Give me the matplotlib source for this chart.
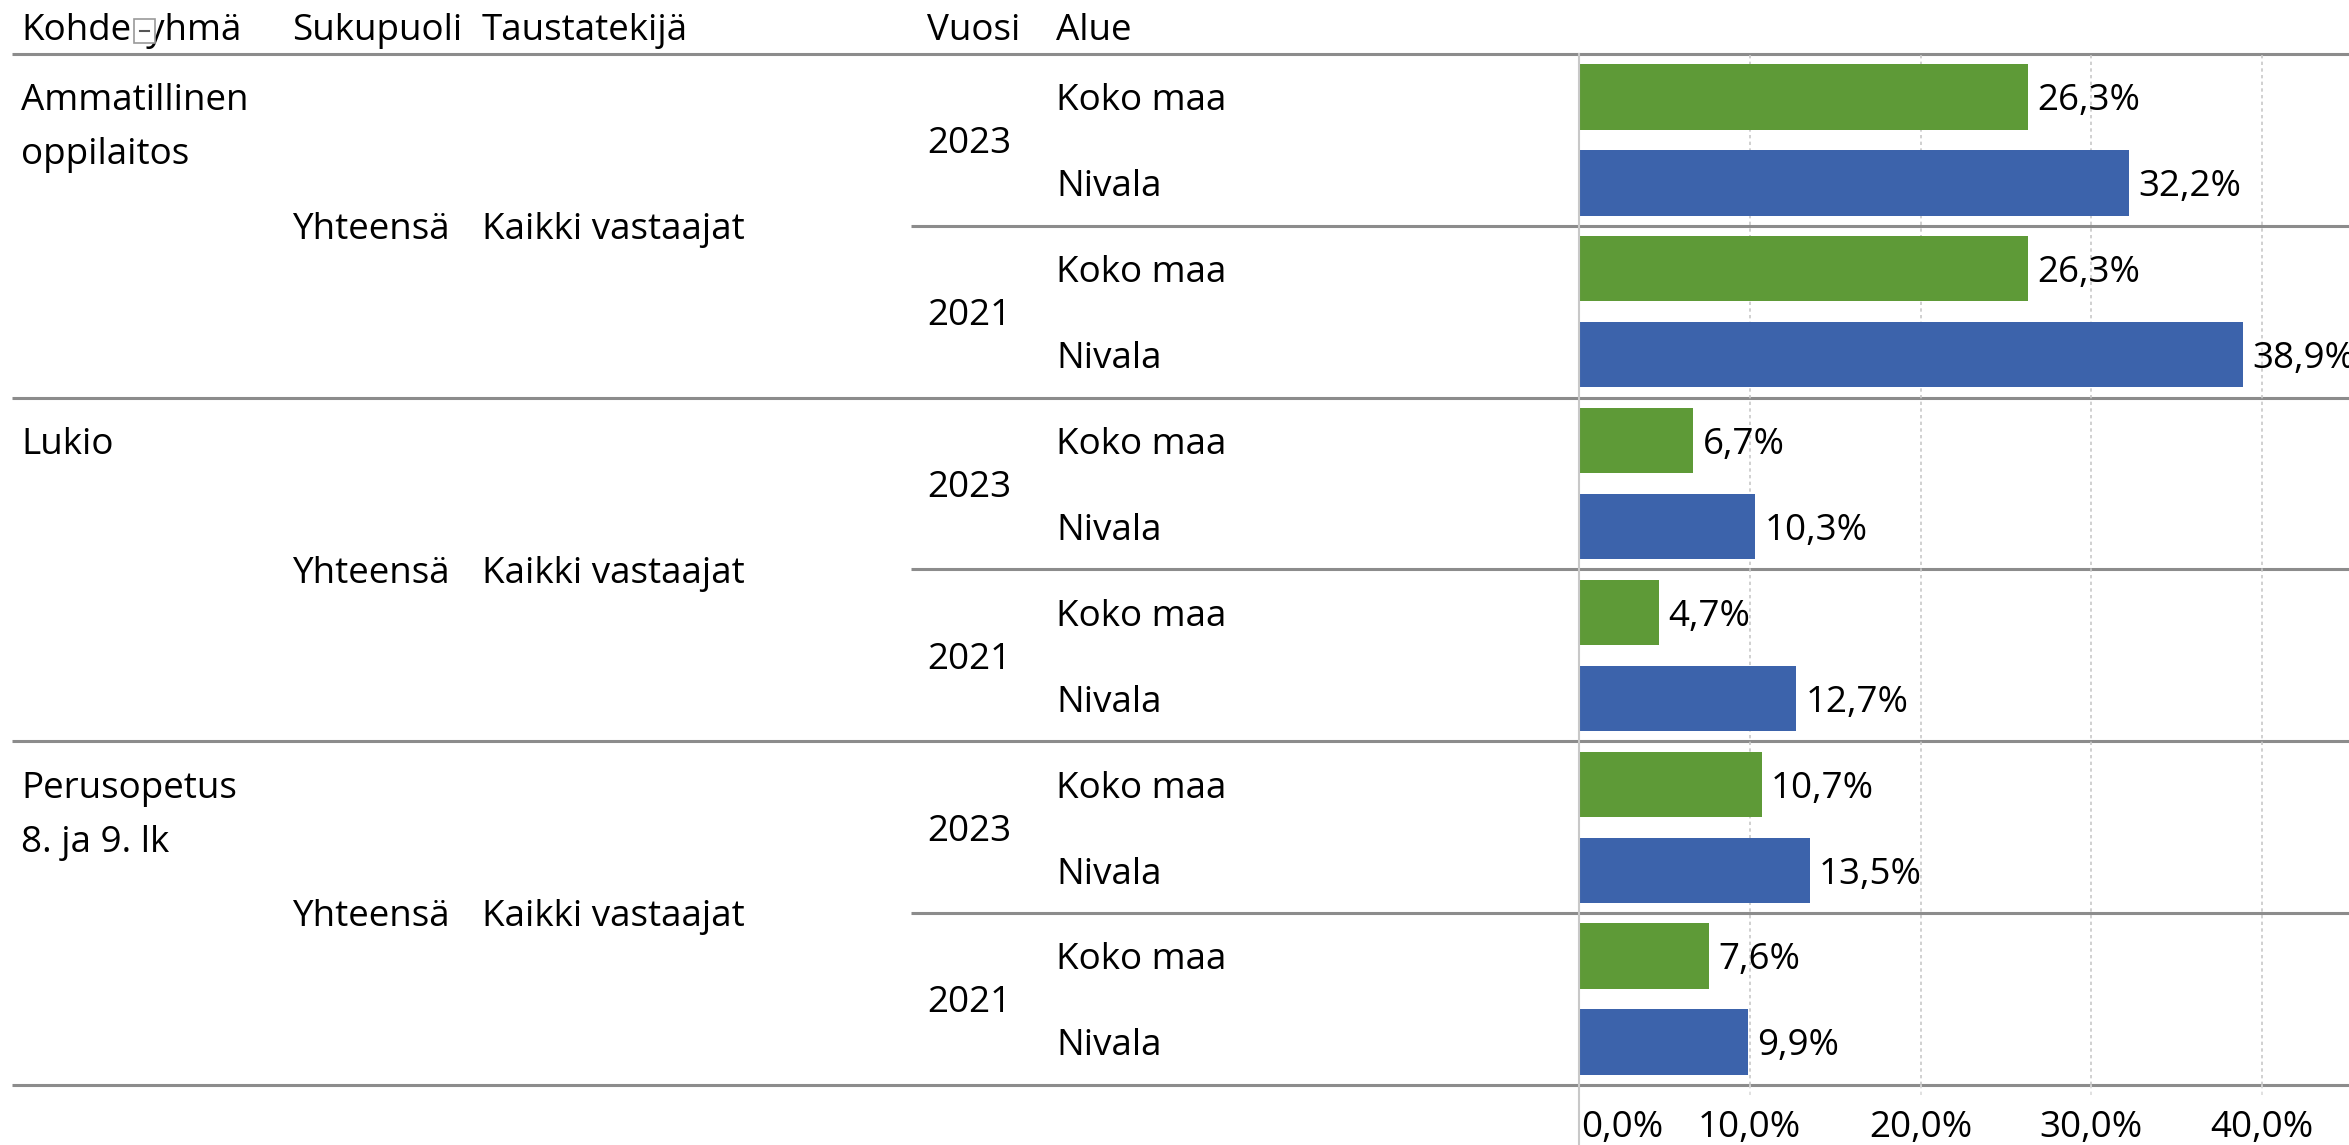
import matplotlib
matplotlib.use("Agg")
import matplotlib.pyplot as plt
from matplotlib.patches import Rectangle

plt.rcParams['font.family'] = ['Open Sans', 'DejaVu Sans']

# ---- data ----
groups = ["Ammatillinen\noppilaitos", "Lukio", "Perusopetus\n8. ja 9. lk"]
genders = ["Yhteensä", "Yhteensä", "Yhteensä"]
backgrounds = ["Kaikki vastaajat", "Kaikki vastaajat", "Kaikki vastaajat"]
years = ["2023", "2021"]
regions = ["Koko maa", "Nivala"]
values = [  # per group: [[2023 Koko maa, 2023 Nivala], [2021 Koko maa, 2021 Nivala]]
    [[26.3, 32.2], [26.3, 38.9]],
    [[6.7, 10.3], [4.7, 12.7]],
    [[10.7, 13.5], [7.6, 9.9]],
]
headers = ["Kohderyhmä", "Sukupuoli", "Taustatekijä", "Vuosi", "Alue"]
xticks = [0, 10, 20, 30, 40]
region_colors = {"Koko maa": "#5e9a37", "Nivala": "#3c63ab"}

# ---- layout ----
W, H = 2349, 1145
fig = plt.figure(figsize=(W / 100, H / 100), dpi=100)
top_px, bot_px = 54, 1085
x0_px = 1579
fs = 26.5
dy = 0.05
line_col = "#8c8c8c"

nrows = len(groups) * len(years) * len(regions)
ax_b = 1 - bot_px / H
ax_h = (bot_px - top_px) / H

# label axes (pixel x coords)
lab = fig.add_axes([0, ax_b, 1, ax_h])
lab.set_xlim(0, W)
lab.set_ylim(nrows - 0.5, -0.5)
lab.axis("off")

# bar axes
ax = fig.add_axes([x0_px / W, ax_b, 1 - x0_px / W, ax_h])
ax.set_ylim(nrows - 0.5, -0.5)
xmax = (W - x0_px) / 170.75 * 10
ax.set_xlim(0, xmax)
for s in ax.spines.values():
    s.set_visible(False)
ax.set_yticks([])
ax.set_xticks([])
ax.patch.set_alpha(0)
for t in xticks[1:]:
    ax.axvline(t, color="#c8c8c8", lw=1.2, ls=(0, (2, 2)), zorder=0)

row = 0
ys, ws, cs = [], [], []
for gi, g in enumerate(groups):
    gstart = row
    for yi, yr in enumerate(years):
        ystart = row
        for ri, rg in enumerate(regions):
            v = values[gi][yi][ri]
            ys.append(row); ws.append(v); cs.append(region_colors[rg])
            lab.text(1056, row + dy, rg, fontsize=fs, va="center", ha="left")
            ax.text(v + 0.55, row + dy, f"{v:.1f}%".replace(".", ","), fontsize=fs,
                    va="center", ha="left", clip_on=True)
            row += 1
        lab.text(927, ystart + 0.5 + dy, yr, fontsize=fs, va="center", ha="left")
        if yi < len(years) - 1:
            lab.plot([911, W], [row - 0.5, row - 0.5], color=line_col, lw=2.2,
                     solid_capstyle="butt", clip_on=False)
    lines = g.split("\n")
    for li, ln in enumerate(lines):
        lab.text(21, gstart + li * 0.63 + dy, ln, fontsize=fs, va="center", ha="left")
    gc = (gstart + row - 1) / 2
    lab.text(292, gc + dy, genders[gi], fontsize=fs, va="center", ha="left")
    lab.text(482, gc + dy, backgrounds[gi], fontsize=fs, va="center", ha="left")
    lab.plot([12, W], [row - 0.5, row - 0.5], color=line_col, lw=2.2,
             solid_capstyle="butt", clip_on=False)

ax.barh(ys, ws, height=0.76, color=cs, zorder=2)

# top header line
lab.plot([12, W], [-0.5, -0.5], color=line_col, lw=2.2, solid_capstyle="butt", clip_on=False)

# zero line (extends into tick area)
fig.add_artist(plt.Line2D([x0_px / W, x0_px / W], [0, 1 - top_px / H],
                          color="#c8c8c8", lw=1.5))
for t in xticks[1:]:
    xf = (x0_px + t / xmax * (W - x0_px)) / W
    fig.add_artist(plt.Line2D([xf, xf], [1 - bot_px / H, 1 - 1097 / H],
                              color="#dcdcdc", lw=1.2, ls=(0, (2, 2))))

# tick labels
for t in xticks:
    xf = (x0_px + t / xmax * (W - x0_px)) / W
    fig.text(xf + (2 / W if t == 0 else 0), 1 - 1128 / H, f"{t:.1f}%".replace(".", ","),
             fontsize=fs, ha="left" if t == 0 else "center", va="center")

# headers
hx = [21, 292, 482, 927, 1056]
for h, x in zip(headers, hx):
    fig.text(x / W, 1 - 31 / H, h, fontsize=fs, ha="left", va="center")

# small collapse icon over header (covers part of the word, as in the original)
ix, iy, iw, ih = 134, 19, 21, 24
icon = Rectangle((ix / W, 1 - (iy + ih) / H), iw / W, ih / H, transform=fig.transFigure,
                 facecolor="white", edgecolor="#9a9a9a", lw=1.2, zorder=5)
fig.add_artist(icon)
fig.add_artist(plt.Line2D([(ix + 6) / W, (ix + iw - 6) / W],
                          [1 - (iy + ih / 2) / H] * 2, color="#555555", lw=1.5, zorder=6))

fig.savefig("out.png", dpi=100, facecolor="white")
